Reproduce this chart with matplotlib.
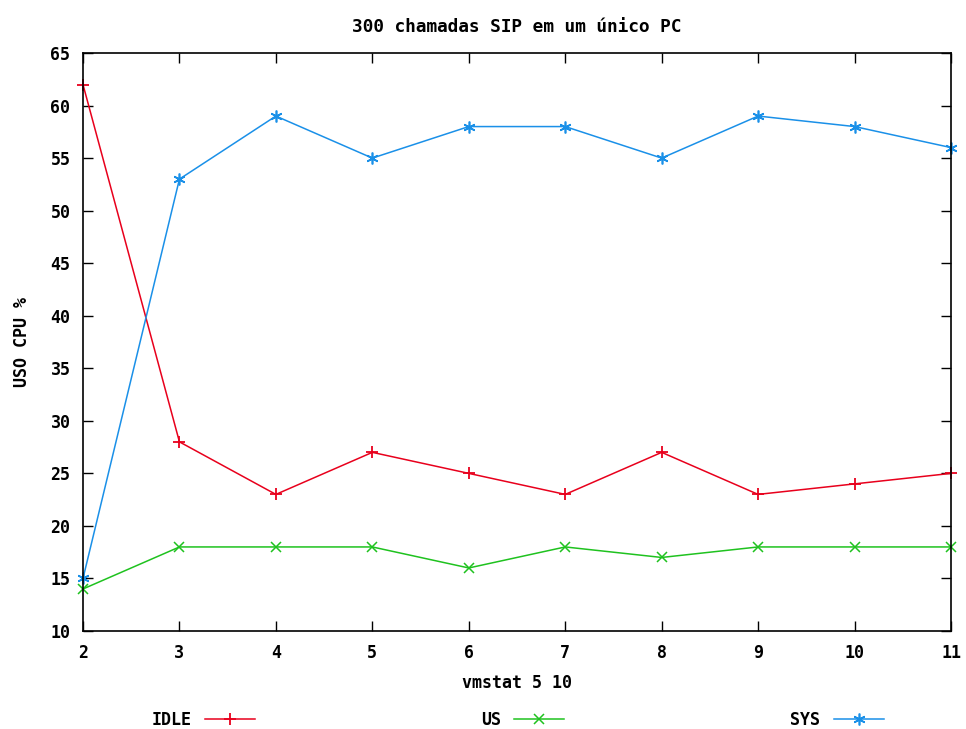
import matplotlib
matplotlib.use("Agg")
import matplotlib.pyplot as plt

# --------------------------------------------
# Data (vmstat 5 10)
# --------------------------------------------
amostras = [2, 3, 4, 5, 6, 7, 8, 9, 10, 11]
idle = [62, 28, 23, 27, 25, 23, 27, 23, 24, 25]
us = [14, 18, 18, 18, 16, 18, 17, 18, 18, 18]
sys_ = [15, 53, 59, 55, 58, 58, 55, 59, 58, 56]

y_ticks = [10, 15, 20, 25, 30, 35, 40, 45, 50, 55, 60, 65]

plt.rcParams["font.family"] = ["DejaVu Sans Mono"]
plt.rcParams["font.weight"] = "bold"
fs = 12

fig = plt.figure(figsize=(9.66, 7.29), dpi=100)
ax = fig.add_axes([0.0859, 0.1344, 0.8986, 0.7929])

ax.plot(amostras, idle, color="#e8001c", lw=1.1, marker="+", ms=9, mew=1.3,
        label="IDLE", clip_on=False)
ax.plot(amostras, us, color="#1fc21f", lw=1.1, marker="x", ms=7.5, mew=1.1,
        label="US", clip_on=False)
ax.plot(amostras, sys_, color="#1a90e8", lw=1.1, marker=(6, 2, 0), ms=8.5, mew=1.2,
        label="SYS", clip_on=False)

ax.set_xlim(2, 11)
ax.set_ylim(10, 65)
ax.set_xticks(amostras)
ax.set_yticks(y_ticks)
ax.tick_params(direction="in", length=7, width=1, top=True, right=True,
               labelsize=fs, pad=9)
for s in ax.spines.values():
    s.set_linewidth(1.2)

ax.set_title("300 chamadas SIP em um único PC", fontsize=12.8, fontweight="bold", pad=15)
ax.set_xlabel("vmstat 5 10", fontsize=fs, fontweight="bold", labelpad=9)
ax.set_ylabel("USO CPU %", fontsize=fs, fontweight="bold", labelpad=14)

ax.legend(loc="center", bbox_to_anchor=(0.536, 0.012), bbox_transform=fig.transFigure,
          ncol=3, markerfirst=False, frameon=False, fontsize=fs,
          handlelength=3.0, handletextpad=0.8, columnspacing=13.55,
          borderpad=0)

fig.savefig("out.png", dpi=100)
